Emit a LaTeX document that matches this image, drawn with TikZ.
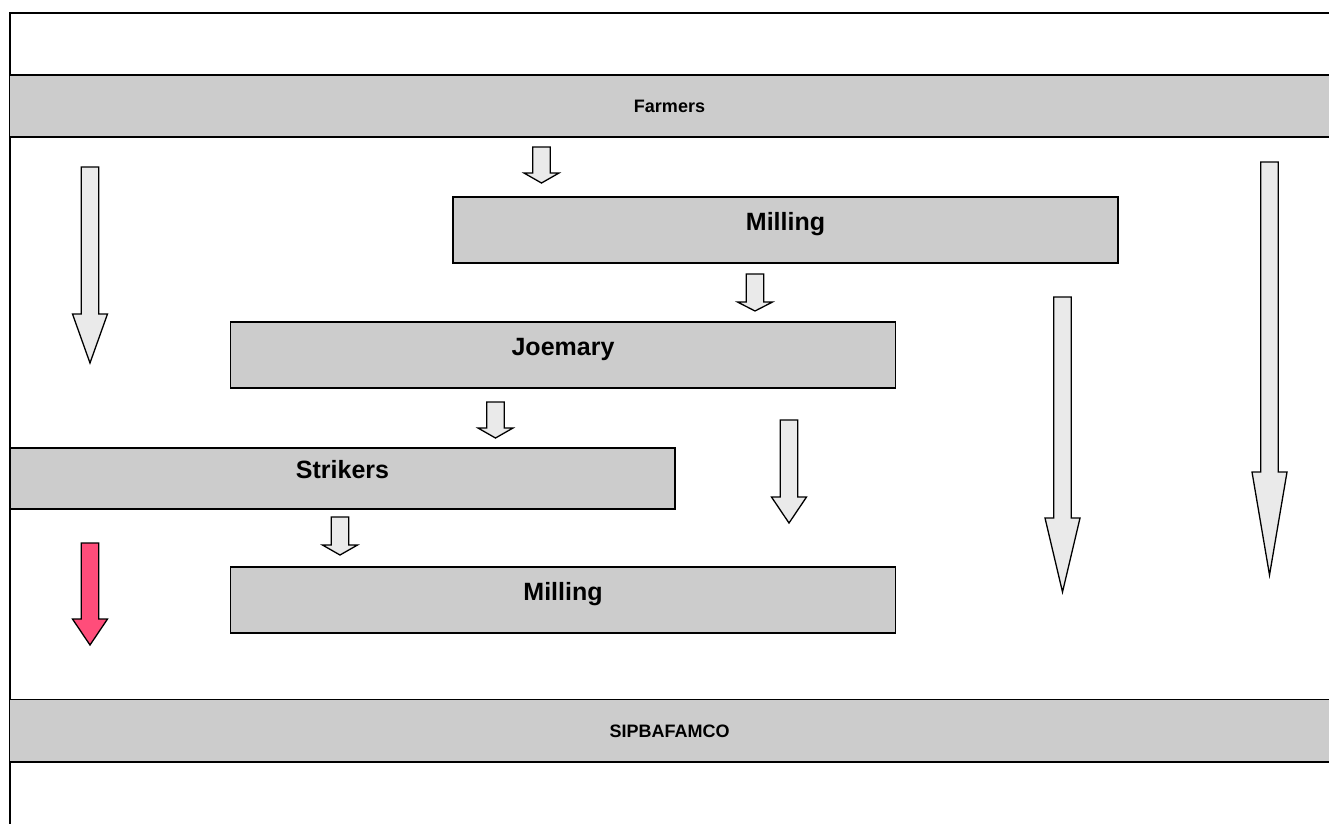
\documentclass[tikz,border=0pt]{standalone}
\usepackage{fontspec}
\setmainfont{Liberation Sans}
\usepackage{tikz}
\usetikzlibrary{positioning}
\definecolor{bandgray}{HTML}{CCCCCC}
\definecolor{arrowfill}{HTML}{EAEAEA}
\definecolor{arrowred}{HTML}{FF4D7A}
\tikzset{
    bandnode/.style = {rectangle, fill=bandgray, inner sep=0pt, minimum width=1319pt, minimum height=62pt},
    bandline/.style = {line width=1.5pt, black},
    boxnode/.style = {rectangle, draw=black, line width=1.2pt, fill=bandgray, inner sep=0pt, minimum width=665pt, minimum height=66pt,
                      font=\bfseries\fontsize{25}{30}\selectfont, text height=12pt, text depth=12pt},
    framen/.style = {line width=1.5pt, black},
    arrowg/.style = {draw=black, line width=1.3pt, fill=arrowfill, line join=miter},
    arrowr/.style = {draw=black, line width=1.3pt, fill=arrowred, line join=miter},
    every picture/.style={font issue=\bfseries\fontsize{18}{22}},
    font issue/.style={execute at begin picture={#1\selectfont}}
}
% block arrow pointing down: [style]{x}{top}{head base}{tip}
\newcommand{\blockarrow}[5][arrowg]{%
  \draw[#1] (#2-8.75,#3) -- (#2+8.75,#3) -- (#2+8.75,#4) -- (#2+17.5,#4) -- (#2,#5)
    -- (#2-17.5,#4) -- (#2-8.75,#4) -- cycle;}
\begin{document}
\begin{tikzpicture}[x=1pt, y=-1pt]
  \useasboundingbox (0,0) rectangle (1329,823);
  % frame
  \draw[framen] (1340,13) -- (10,13) -- (10,830);
  % bands
  \node[bandnode] (farmers) at (669.5,106) {Farmers};
  \draw[bandline] (farmers.north west) -- (farmers.north east)
                  (farmers.south west) -- (farmers.south east);
  \node[bandnode] (sipba) at (669.5,731) {SIPBAFAMCO};
  \draw[line width=0.9pt] (sipba.north west) -- (sipba.north east);
  \draw[bandline] (sipba.south west) -- (sipba.south east);
  % boxes
  \node[boxnode] (milla) at (785.5,230) {Milling};
  \node[boxnode] (joemary) at (563,355) {Joemary};
  \node[boxnode, minimum height=61pt] (strikers) at (342.5,478.5) {Strikers};
  \node[boxnode] (millb) at (563,600) {Milling};
  % arrows
  \blockarrow{90}{167}{314}{363}
  \blockarrow{1269.5}{162}{472}{575}
  \blockarrow{1062.5}{297}{518}{592}
  \blockarrow{541.5}{147}{173}{183}
  \blockarrow{755}{274}{302}{311}
  \blockarrow{495.5}{402}{428}{438}
  \blockarrow{789}{420}{497}{523}
  \blockarrow{340}{517}{545}{555}
  \blockarrow[arrowr]{90}{543}{619}{645}
\end{tikzpicture}
\end{document}
